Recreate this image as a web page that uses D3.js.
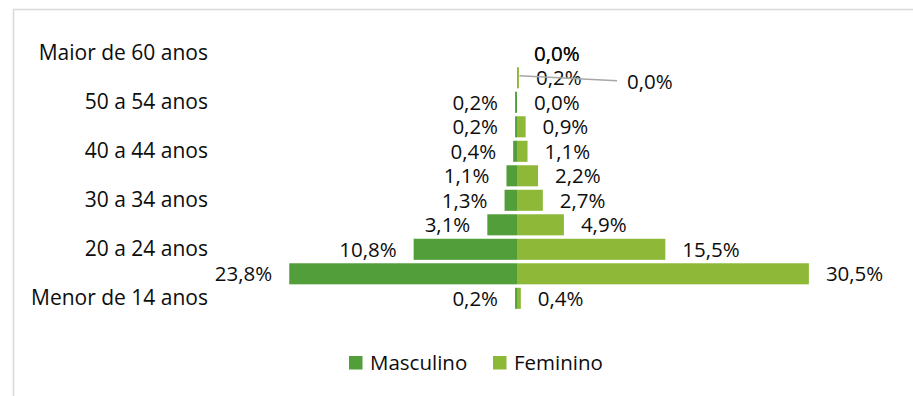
<!DOCTYPE html>
<html>
<head>
<meta charset="utf-8">
<script src="https://cdn.jsdelivr.net/npm/d3@7"></script>
<style>
  body { margin: 0; background: #fff; }
  svg { display: block; }
  text { font-family: "Open Sans", sans-serif; fill: #0d0d0d; }
</style>
</head>
<body>
<svg id="chart" width="913" height="396"></svg>
<script>
// Age groups, top to bottom
const ageGroups = [
  "Maior de 60 anos", "55 a 59 anos", "50 a 54 anos", "45 a 49 anos",
  "40 a 44 anos", "35 a 39 anos", "30 a 34 anos", "25 a 29 anos",
  "20 a 24 anos", "15 a 19 anos", "Menor de 14 anos"
];
// Only every other category is labelled on the axis
const shownAgeLabels = [
  "Maior de 60 anos", "50 a 54 anos", "40 a 44 anos",
  "30 a 34 anos", "20 a 24 anos", "Menor de 14 anos"
];
// Share of respondents (%) per age group
const masculino = [0.0, 0.0, 0.2, 0.2, 0.4, 1.1, 1.3, 3.1, 10.8, 23.8, 0.2];
const feminino  = [0.0, 0.2, 0.0, 0.9, 1.1, 2.2, 2.7, 4.9, 15.5, 30.5, 0.4];
const seriesNames = ["Masculino", "Feminino"];
const seriesColors = ["#529e3b", "#8db838"];

const svg = d3.select("#chart");
const W = 913, H = 396;

// chart frame
svg.append("path")
  .attr("d", `M13.5,${H} V9.5 H${W}`)
  .attr("fill", "none")
  .attr("stroke", "#d9d9d9")
  .attr("stroke-width", 1.5);

const centerX = 517, pxPerPct = 9.57, ext = 35;
const x = d3.scaleLinear()
  .domain([-ext, ext])
  .range([centerX - ext * pxPerPct, centerX + ext * pxPerPct]);

const y = d3.scaleBand()
  .domain(ageGroups)
  .range([41.05, 310.55])
  .paddingInner(0.14)
  .paddingOuter(0.07);

const color = d3.scaleOrdinal(seriesNames, seriesColors);
const fmt = v => d3.format(".1f")(v).replace(".", ",") + "%";

const rows = ageGroups.map((g, i) => ({ group: g, m: masculino[i], f: feminino[i] }));

// bars
const bars = svg.append("g");
bars.selectAll("rect.m").data(rows).join("rect")
  .attr("class", "m")
  .attr("x", d => x(-d.m))
  .attr("width", d => x(0) - x(-d.m))
  .attr("y", d => y(d.group))
  .attr("height", y.bandwidth())
  .attr("fill", color("Masculino"));
bars.selectAll("rect.f").data(rows).join("rect")
  .attr("class", "f")
  .attr("x", x(0))
  .attr("width", d => x(d.f) - x(0))
  .attr("y", d => y(d.group))
  .attr("height", y.bandwidth())
  .attr("fill", color("Feminino"));

// category axis
const axis = svg.append("g")
  .attr("transform", "translate(208,0)")
  .call(d3.axisLeft(y).tickValues(shownAgeLabels).tickSize(0).tickPadding(0));
axis.select(".domain").remove();
axis.selectAll("text")
  .style("font-family", "\"Open Sans\", sans-serif")
  .style("font-size", "21px")
  .attr("fill", "#0d0d0d");

// data labels: outside end of each bar; zero values fall on the right side
const labelGap = 17;
const labels = svg.append("g").style("font-size", "20.5px");
const cy = g => y(g) + y.bandwidth() / 2;

rows.forEach(d => {
  // label of the male bar in "55 a 59 anos" is pulled out to the right with a leader line
  if (d.group === "55 a 59 anos") return;
  const left = d.m > 0;
  labels.append("text")
    .attr("x", left ? x(-d.m) - labelGap : x(0) + labelGap)
    .attr("y", cy(d.group))
    .attr("dy", "0.36em")
    .attr("text-anchor", left ? "end" : "start")
    .text(fmt(d.m));
});
rows.forEach(d => {
  labels.append("text")
    .attr("x", x(d.f) + labelGap)
    .attr("y", cy(d.group))
    .attr("dy", "0.36em")
    .attr("text-anchor", "start")
    .text(fmt(d.f));
});

// moved label with leader line
const moved = rows.find(d => d.group === "55 a 59 anos");
const my = cy(moved.group);
svg.append("line")
  .attr("x1", x(moved.f) + 0.5).attr("y1", my - 2)
  .attr("x2", x(0) + 100).attr("y2", my + 3)
  .attr("stroke", "#a6a6a6")
  .attr("stroke-width", 1.5);
labels.append("text")
  .attr("x", x(0) + 110)
  .attr("y", my + 4)
  .attr("dy", "0.36em")
  .attr("text-anchor", "start")
  .text(fmt(moved.m));

// legend
const legendX = [349, 493];
const legend = svg.append("g").attr("transform", "translate(0,362.5)");
seriesNames.forEach((name, i) => {
  legend.append("rect")
    .attr("x", legendX[i]).attr("y", -6.5)
    .attr("width", 13.5).attr("height", 13.5)
    .attr("fill", color(name));
  legend.append("text")
    .attr("x", legendX[i] + 21)
    .attr("y", 0)
    .attr("dy", "0.36em")
    .style("font-size", "20.5px")
    .text(name);
});
</script>
</body>
</html>
